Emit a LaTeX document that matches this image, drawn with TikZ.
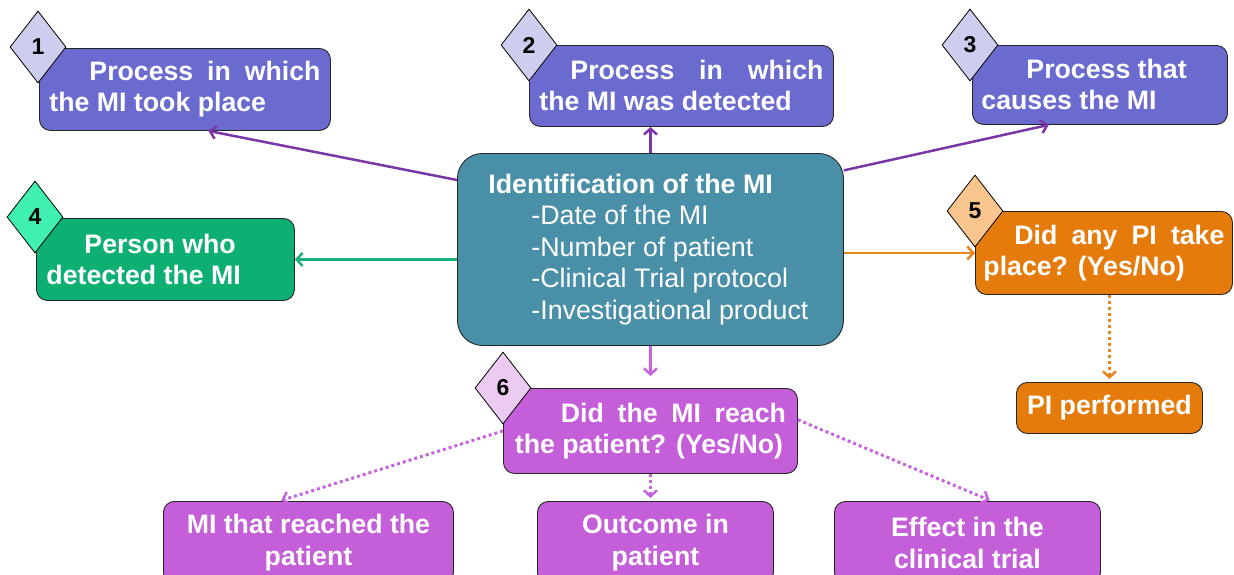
\documentclass[tikz,border=0pt]{standalone}
\usepackage{fontspec}
\setmainfont{Liberation Sans}
\usetikzlibrary{shapes.geometric,arrows.meta,calc}
\setlength\parindent{0pt}
\definecolor{bluebox}{HTML}{6A6ACF}
\definecolor{bluedia}{HTML}{CDCDEE}
\definecolor{greenbox}{HTML}{0DAF73}
\definecolor{greendia}{HTML}{40F0B0}
\definecolor{mainbox}{HTML}{4A8FA8}
\definecolor{orangebox}{HTML}{E57B0B}
\definecolor{orangedia}{HTML}{F8C58E}
\definecolor{violetbox}{HTML}{C55FD9}
\definecolor{violetdia}{HTML}{ECCBF3}
\definecolor{purplearrow}{HTML}{7A35A6}
\definecolor{greenarrow}{HTML}{16B07A}
\definecolor{orangearrow}{HTML}{E8861C}
\definecolor{violetarrow}{HTML}{C763DF}
\tikzset{
  box/.style={draw=black!85, line width=0.9pt, rounded corners=11pt, anchor=north west,
    text=white, font=\bfseries\fontsize{26.7}{31}\selectfont, align=left, inner sep=0pt},
  cbox/.style={box, align=center, font=\bfseries\fontsize{26.7}{32}\selectfont},
  dia/.style={diamond, draw=black, line width=0.8pt, minimum width=56pt, minimum height=72pt,
    inner sep=0pt, font=\bfseries\fontsize{23}{23}\selectfont},
  arr/.style={line width=2.5pt, -{Straight Barb[length=6pt,width=13pt]}},
  darr/.style={line width=3pt, dash pattern=on 3pt off 3pt, -{Straight Barb[length=6pt,width=13pt,line width=2.5pt]}}
}
\begin{document}
\begin{tikzpicture}[x=1pt,y=-1pt]
\useasboundingbox (0,0) rectangle (1234,574);
% boxes
\node[box, fill=mainbox, rounded corners=25pt, minimum width=386pt, minimum height=192pt,
  font=\fontsize{26.8}{31.5}\selectfont] (main) at (457,153)
  {{\bfseries Identification of the MI}\\
   \hspace*{43pt}-Date of the MI\\
   \hspace*{43pt}-Number of patient\\
   \hspace*{43pt}-Clinical Trial protocol\\
   \hspace*{43pt}-Investigational product\hspace*{4pt}};
\node[box, fill=bluebox, minimum width=291pt, minimum height=82pt] (b1) at (39,48)
  {\makebox[271pt][l]{\hspace*{40pt}Process\hfill in\hfill which}\\the MI took place};
\node[box, fill=bluebox, minimum width=304pt, minimum height=81pt] (b2) at (529,45)
  {\makebox[284pt][l]{\hspace*{31pt}Process\hfill in\hfill which}\\the MI was detected};
\node[box, fill=bluebox, minimum width=255pt, minimum height=79pt] (b3) at (972,45)
  {\makebox[237pt][l]{\hspace*{45pt}Process that}\\causes the MI};
\node[box, fill=greenbox, minimum width=258pt, minimum height=82pt] (b4) at (36,218)
  {\makebox[238pt][l]{\hspace*{38pt}Person who}\\detected the MI};
\node[box, fill=orangebox, minimum width=257pt, minimum height=83pt] (b5) at (975,211)
  {\makebox[241pt][l]{\hspace*{31pt}Did\hfill any\hfill PI\hfill take}\\place? (Yes/No)};
\node[box, fill=orangebox, minimum width=186pt, minimum height=51pt, align=center] (pi) at (1016,382)
  {PI performed};
\node[box, fill=violetbox, minimum width=294pt, minimum height=85pt] (b6) at (503,388)
  {\makebox[271pt][l]{\hspace*{46pt}Did\hfill the\hfill MI\hfill reach}\\the patient? (Yes/No)};
\node[cbox, fill=violetbox, minimum width=290pt, minimum height=82pt] (ba) at (163,501)
  {MI that reached the\\patient};
\node[cbox, fill=violetbox, minimum width=236pt, minimum height=82pt] (bb) at (537,501)
  {Outcome in\\patient};
\node[cbox, fill=violetbox, minimum width=266pt, minimum height=82pt] (bc) at (834,501)
  {Effect in the\\clinical trial};
% diamonds
\node[dia, fill=bluedia] (d1) at (38,47) {1};
\node[dia, fill=bluedia] (d2) at (529,45) {2};
\node[dia, fill=bluedia] (d3) at (970,45) {3};
\node[dia, fill=greendia] (d4) at (35,217) {4};
\node[dia, fill=orangedia] (d5) at (975,211) {5};
\node[dia, fill=violetdia] (d6) at (503,388) {6};
% connectors
\draw[arr, purplearrow] ($(main.north west)!0.14!(main.south west)$) -- ($(b1.south west)!0.58!(b1.south east)$);
\draw[arr, purplearrow] (main.north) -- (main.north |- b2.south);
\draw[arr, purplearrow] ($(main.north east)!0.09!(main.south east)$) -- ($(b3.south west)!0.3!(b3.south east)$);
\draw[arr, greenarrow] (main.west |- b4.east) -- (b4.east);
\draw[arr, orangearrow] (main.east |- b5.west) -- (b5.west);
\draw[arr, violetarrow, shorten >=12pt] (main.south) -- (b6.north);
\draw[darr, orangearrow, shorten >=3pt] (b5.south -| pi.north) -- (pi.north);
\draw[darr, violetarrow, shorten >=2pt] (b6.west) -- ($(ba.north west)!0.4!(ba.north east)$);
\draw[darr, violetarrow, shorten >=3pt] (b6.south) -- (b6.south |- bb.north);
\draw[darr, violetarrow, shorten >=2pt] ($(b6.north east)!0.37!(b6.south east)$) -- ($(bc.north west)!0.59!(bc.north east)$);
\end{tikzpicture}
\end{document}
